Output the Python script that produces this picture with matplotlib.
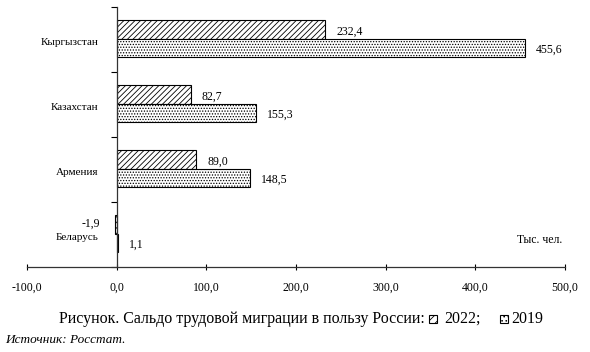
import matplotlib.pyplot as plt
import numpy as np
from matplotlib.patches import Rectangle

# data (thousand people), top to bottom
countries = ['Кыргызстан', 'Казахстан', 'Армения', 'Беларусь']
vals_2022 = [232.4, 82.7, 89.0, -1.9]
vals_2019 = [455.6, 155.3, 148.5, 1.1]
xticks = [-100, 0, 100, 200, 300, 400, 500]


def fmt(v):
    return f'{v:.1f}'.replace('.', ',')


plt.rcParams['font.family'] = ['Liberation Serif', 'DejaVu Serif']
plt.rcParams['hatch.linewidth'] = 0.6

W, H = 590, 352
fig = plt.figure(figsize=(W / 100, H / 100), dpi=100)
ax = fig.add_axes([27 / W, 1 - 267 / H, (565 - 27) / W, (267 - 7) / H])

n = len(countries)
y = np.arange(n)
h = 0.285
ax.barh(y - h / 2 - 0.015, vals_2022, height=h, color='white', edgecolor='black',
        hatch='//////', linewidth=0.8)
ax.barh(y + h / 2 - 0.015, vals_2019, height=h, color='white', edgecolor='black',
        hatch='......', linewidth=0.8)

ax.set_ylim(n - 0.5, -0.5)
ax.set_xlim(-100, 500)

# value labels
for i in range(n):
    for v, off in ((vals_2022[i], -h / 2), (vals_2019[i], h / 2)):
        if v >= 0:
            ax.annotate(fmt(v), (v, i + off), xytext=(8, -1), textcoords='offset points',
                        ha='left', va='center', fontsize=8.5)
        else:
            ax.annotate(fmt(v), (v, i + off - 0.03), xytext=(-11, 0), textcoords='offset points',
                        ha='right', va='center', fontsize=8.5)

ax.set_xticks(xticks)
ax.set_xticklabels([fmt(t) for t in xticks], fontsize=8.5)
ax.tick_params(axis='x', direction='inout', length=5, width=0.8, pad=8)

ax.set_yticks(np.arange(n + 1) - 0.5)
ax.set_yticklabels([])
ax.set_yticks(y + 0.03, minor=True)
ax.set_yticklabels(countries, minor=True)
ax.tick_params(axis='y', which='major', direction='out', length=4, width=0.8)
ax.tick_params(axis='y', which='minor', length=0, pad=13, labelsize=8)

for s in ('top', 'right'):
    ax.spines[s].set_visible(False)
for s in ('left', 'bottom'):
    ax.spines[s].set_linewidth(0.9)
    ax.spines[s].set_color('#333333')
ax.spines['left'].set_position(('data', 0))
ax.spines['left'].set_bounds(n - 0.5, -0.5)

ax.text(562 / W, 1 - 240 / H, 'Тыс. чел.', transform=fig.transFigure,
        ha='right', va='center', fontsize=8.5)

# caption with inline legend boxes
cy = 1 - 319 / H
fig.text(425 / W, cy, 'Рисунок. Сальдо трудовой миграции в пользу России:',
         ha='right', va='center', fontsize=11.5)
fig.text(444 / W, cy, '2022;', ha='left', va='center', fontsize=11.5)
fig.text(511 / W, cy, '2019', ha='left', va='center', fontsize=11.5)
for x0, hatch in ((429, '////'), (500, '....')):
    fig.patches.append(Rectangle((x0 / W, 1 - 323 / H), 8 / W, 8 / H,
                                 transform=fig.transFigure, facecolor='white',
                                 edgecolor='black', hatch=hatch, linewidth=0.8))
fig.text(5 / W, 1 - 340 / H, 'Источник: Росстат.', ha='left', va='center',
         fontsize=9.5, style='italic')

fig.savefig('out.png', dpi=100)
